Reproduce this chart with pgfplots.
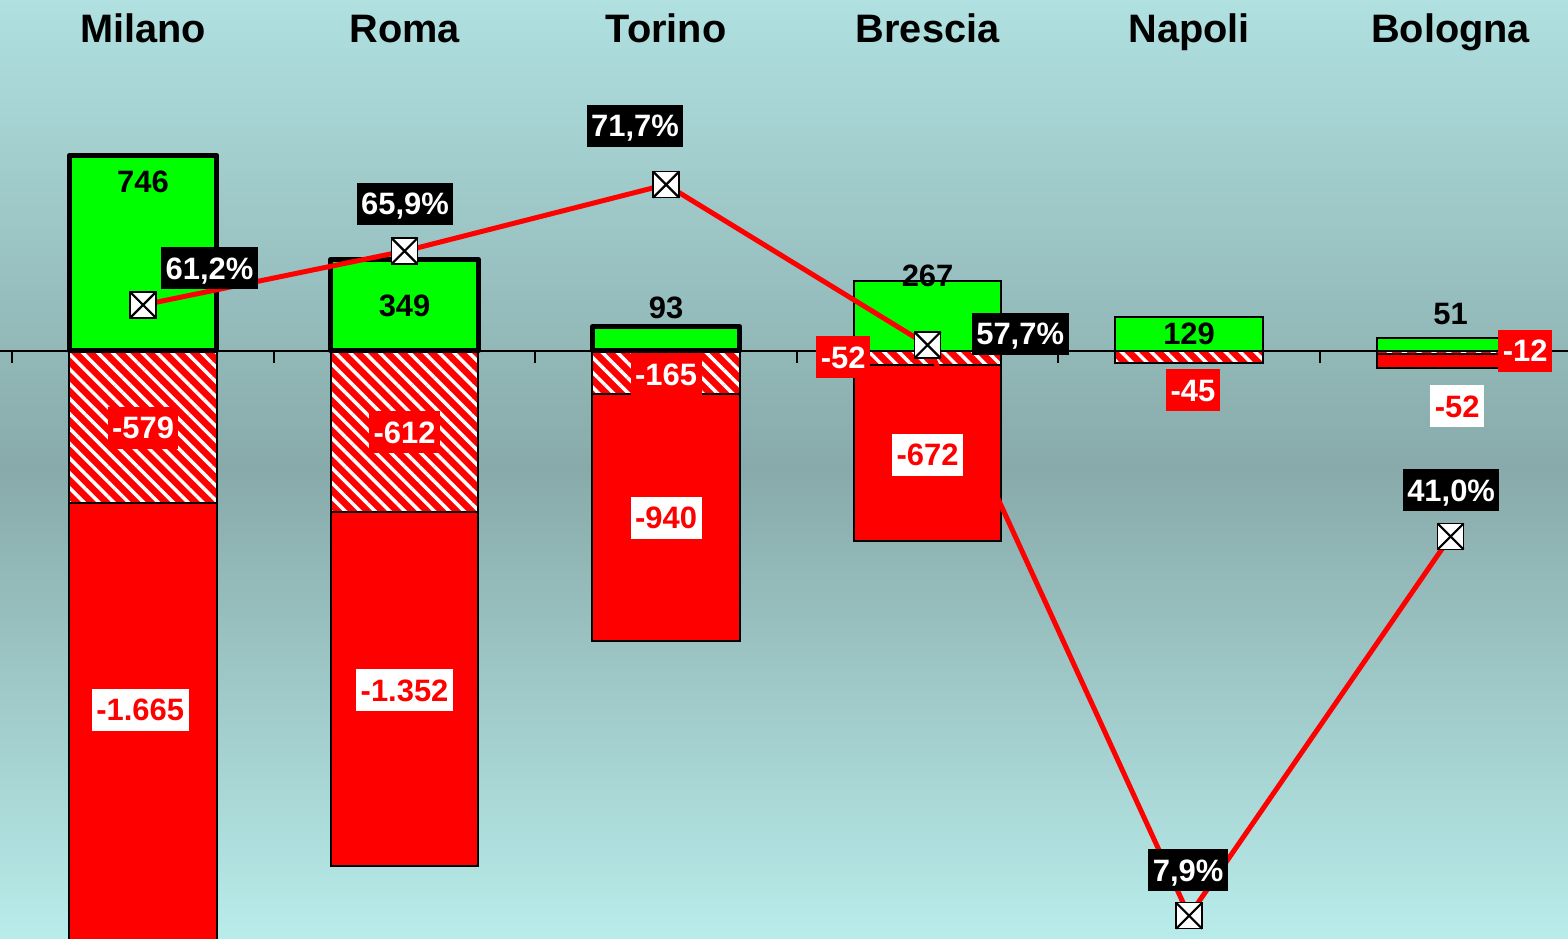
\documentclass[border=0pt]{standalone}
\usepackage{fontspec}
\setmainfont{Liberation Sans}
\usepackage{pgfplots}
\pgfplotsset{compat=1.18}
\usetikzlibrary{patterns.meta}

\definecolor{bgtop}{RGB}{176,224,224}
\definecolor{bgmid}{RGB}{136,170,170}
\definecolor{bgbot}{RGB}{184,236,234}
\definecolor{vgreen}{RGB}{0,255,0}
\definecolor{vred}{RGB}{255,0,0}

\pgfplotsset{
  base/.style={width=15.68cm, height=9.38cm, scale only axis,
    xmin=-0.547, xmax=5.449, axis lines=none,
    at={(0,0)}, anchor=south west},
}

\begin{document}
\begin{tikzpicture}[
  lab/.style={font=\fontsize{8.8}{10}\selectfont\bfseries, inner xsep=0.45mm,
    inner ysep=1mm, text height=2.2mm, text depth=0mm},
  onred/.style={lab, fill=vred, text=white},
  onwhite/.style={lab, fill=white, text=vred},
  onblack/.style={lab, fill=black, text=white},
  plain/.style={lab, text=black},
  city/.style={font=\fontsize{11.3}{13}\selectfont\bfseries, anchor=base, inner sep=0pt},
]
\useasboundingbox (0,0) rectangle (15.68cm,9.38cm);
\shade[top color=bgtop, bottom color=bgbot, middle color=bgmid] (0,0) rectangle (15.68cm,9.38cm);

% bars (primary axis)
\begin{axis}[base, ymin=-2237, ymax=1337.6, ybar, bar width=0.563, bar shift=0pt]
  \draw[line width=0.2mm] (axis cs:-0.6,0) -- (axis cs:5.6,0);
  \pgfplotsinvokeforeach{-0.5,0.5,1.5,2.5,3.5,4.5}{
    \draw[line width=0.2mm] (axis cs:#1,0) -- ([yshift=-1.2mm]axis cs:#1,0);
  }
  % total negative (solid red shows below the hatched part)
  \addplot[fill=vred, draw=black, line width=0.2mm]
    coordinates {(0,-2244) (1,-1964) (2,-1105) (3,-724) (4,-45) (5,-64)};
  % first negative, hatched
  \addplot[fill=vred, draw=black, line width=0.2mm,
    postaction={pattern={Lines[angle=-45,distance=1.05mm,line width=0.35mm]}, pattern color=white}]
    coordinates {(0,-579) (1,-612) (2,-165) (3,-52) (4,-45) (5,-12)};
  % positive
  \addplot[fill=vgreen, draw=black, line width=0.5mm, line join=round]
    coordinates {(0,746) (1,349) (2,93)};
  \addplot[fill=vgreen, draw=black, line width=0.2mm]
    coordinates {(3,267) (4,129) (5,51)};

  \node[city] at (axis cs:0,1174) {Milano};
  \node[city] at (axis cs:1,1174) {Roma};
  \node[city] at (axis cs:2,1174) {Torino};
  \node[city] at (axis cs:3,1174) {Brescia};
  \node[city] at (axis cs:4,1174) {Napoli};
  \node[city] at (axis cs:5,1174) {Bologna};

  \node[plain] at (axis cs:0,644) {746};
  \node[plain] at (axis cs:1,175) {349};
  \node[plain] at (axis cs:2,164) {93};
  \node[plain] at (axis cs:3,286) {267};
  \node[plain] at (axis cs:4,65) {129};
  \node[plain] at (axis cs:5,141) {51};

  \node[onred] at (axis cs:0,-293) {-579};
  \node[onred] at (axis cs:1,-309) {-612};
  \node[onred] at (axis cs:2,-88) {-165};
  \node[onred] at (axis cs:2.677,-23) {-52};
  \node[onred] at (axis cs:4.015,-149) {-45};
  \node[onred] at (axis cs:5.285,0) {-12};

  \node[onwhite] at (axis cs:-0.011,-1368) {-1.665};
  \node[onwhite] at (axis cs:1,-1292) {-1.352};
  \node[onwhite] at (axis cs:2,-636) {-940};
  \node[onwhite] at (axis cs:3,-396) {-672};
  \node[onwhite] at (axis cs:5.025,-210) {-52};
\end{axis}

% percentages (secondary axis)
\begin{axis}[base, ymin=5.96, ymax=87.81]
  \addplot[vred, line width=0.5mm, mark=none]
    coordinates {(0,61.2) (1,65.9) (2,71.7) (3,57.7) (4,7.9) (5,41.0)};
  \addplot[only marks, mark=square*, mark size=1.3mm, mark options={fill=white, draw=none}]
    coordinates {(0,61.2) (1,65.9) (2,71.7) (3,57.7) (4,7.9) (5,41.0)};
  \addplot[only marks, mark=x, mark size=1.84mm, mark options={draw=black, line width=0.22mm}]
    coordinates {(0,61.2) (1,65.9) (2,71.7) (3,57.7) (4,7.9) (5,41.0)};

  \node[onblack] at (axis cs:0.254,64.42) {61,2\%};
  \node[onblack] at (axis cs:1.002,70.01) {65,9\%};
  \node[onblack] at (axis cs:1.881,76.82) {71,7\%};
  \node[onblack] at (axis cs:3.354,58.67) {57,7\%};
  \node[onblack] at (axis cs:3.996,11.89) {7,9\%};
  \node[onblack] at (axis cs:5.002,45.05) {41,0\%};
\end{axis}
\end{tikzpicture}
\end{document}
